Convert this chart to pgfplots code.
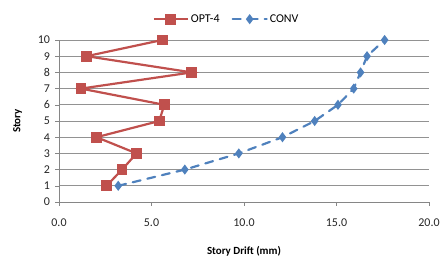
\documentclass[border=0pt]{standalone}
\usepackage{pgfplots}
\pgfplotsset{compat=1.18}
\usepackage{fontspec}
\setmainfont{Carlito}
\definecolor{optred}{HTML}{C0504D}
\definecolor{convblue}{HTML}{4F81BD}
\definecolor{axgray}{HTML}{868686}
\begin{document}
\begin{tikzpicture}
\path[use as bounding box] (-59bp,-57bp) rectangle (383bp,202bp);
\begin{axis}[
  at={(0,0)}, anchor=south west,
  scale only axis, width=370bp, height=162bp,
  xmin=0, xmax=20, ymin=0, ymax=10,
  xtick={0,5,10,15,20}, ytick={0,1,...,10},
  xticklabel style={yshift=-10bp},
  xticklabel={\pgfmathprintnumber[fixed,fixed zerofill,precision=1]{\tick}},
  /pgf/number format/assume math mode=true,
  ticklabel style={font=\fontsize{12}{14}\selectfont, text=black!85},
  yticklabel style={xshift=-2bp},
  axis x line*=bottom, axis y line*=left,
  axis line style={axgray, line width=0.6pt, -},
  tick style={axgray, line width=0.6pt},
  tick align=outside, major tick length=3.5bp,
  ymajorgrids, grid style={axgray!90, line width=0.7pt},
  xlabel={\textbf{Story Drift (mm)}}, ylabel={\textbf{Story}},
  label style={font=\fontsize{11}{13}\selectfont},
  xlabel style={yshift=-13bp},
  ylabel style={yshift=9bp},
  clip=false,
  legend style={at={(0.453,1.0)}, anchor=south, yshift=12bp, draw=none, fill=none,
    font=\fontsize{12}{14}\selectfont, legend columns=2,
    /tikz/every even column/.append style={column sep=10bp}},
  legend image code/.code={\draw[#1] (0bp,0bp) -- (17bp,0bp) plot coordinates {(17bp,0bp)} -- (34bp,0bp);},
]
\addplot[optred, line width=2.2pt, mark=square*, mark size=4.3bp, mark options={solid}] coordinates {
(2.57,1) (3.41,2) (4.19,3) (2.03,4) (5.42,5) (5.69,6) (1.19,7) (7.18,8) (1.49,9) (5.58,10)};
\addlegendentry{OPT-4}
\addplot[convblue, line width=2.2pt, line cap=round, dash pattern=on 8bp off 7bp, mark=diamond*, mark size=3.3bp, mark options={solid}] coordinates {
(3.2,1) (6.8,2) (9.72,3) (12.08,4) (13.82,5) (15.08,6) (15.93,7) (16.3,8) (16.65,9) (17.6,10)};
\addlegendentry{CONV}
\end{axis}
\end{tikzpicture}
\end{document}
